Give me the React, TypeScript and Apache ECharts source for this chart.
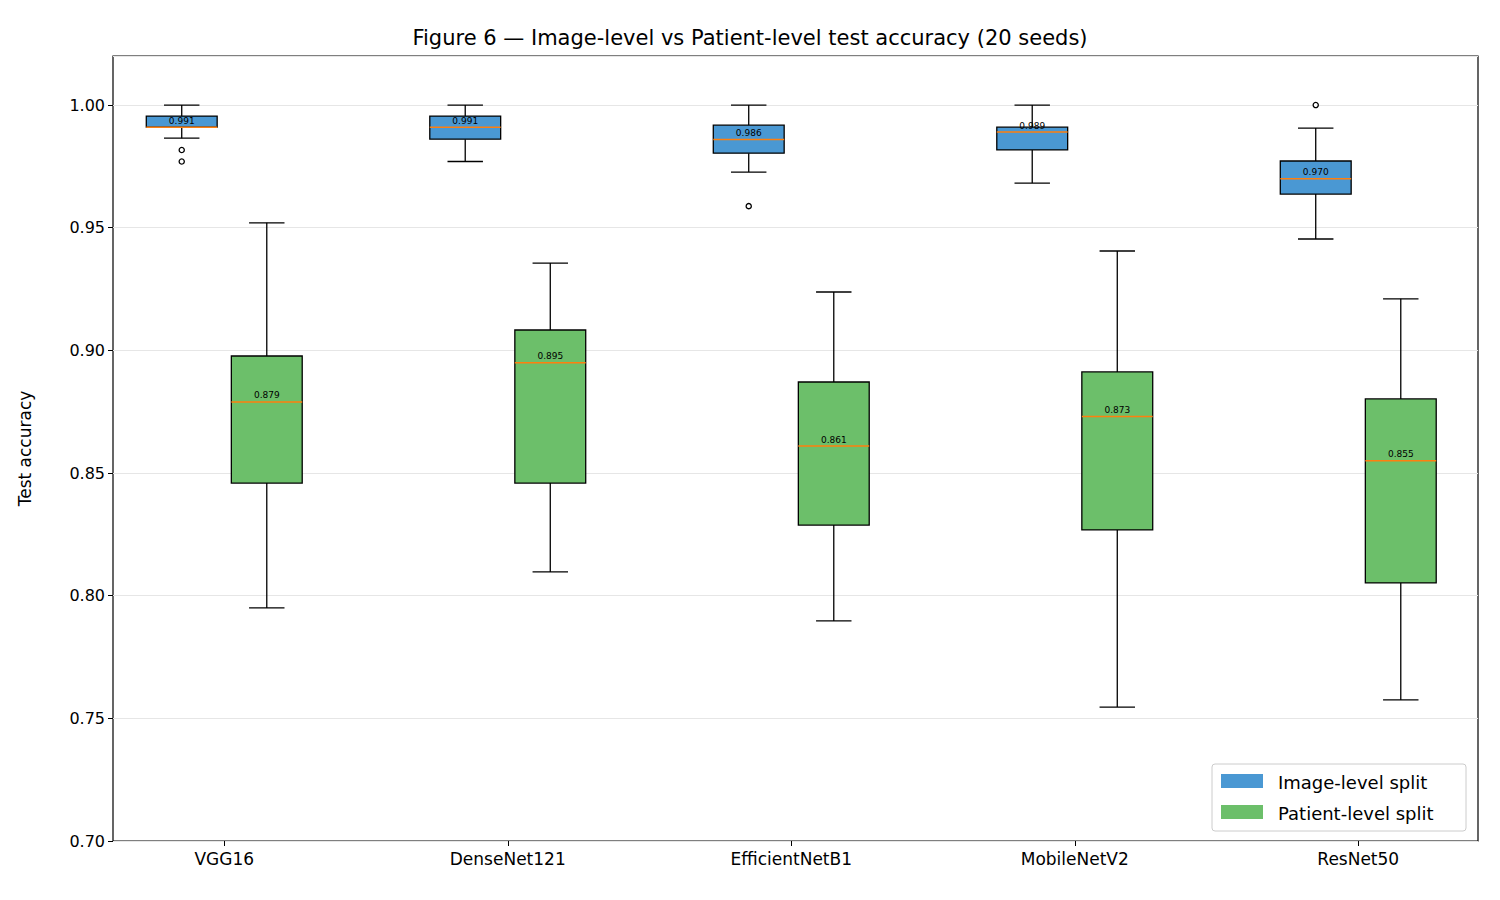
import React, { useEffect, useRef } from 'react';
import * as echarts from 'echarts';

const models = ['VGG16', 'DenseNet121', 'EfficientNetB1', 'MobileNetV2', 'ResNet50'];

// [low whisker, Q1, median, Q3, high whisker]
const imageStats = [
  [0.9865, 0.991, 0.991, 0.9955, 1.0],
  [0.977, 0.9861, 0.991, 0.9955, 1.0],
  [0.9727, 0.9804, 0.986, 0.9918, 1.0],
  [0.9682, 0.9817, 0.989, 0.991, 1.0],
  [0.9454, 0.9637, 0.970, 0.9772, 0.9906],
];
const patientStats = [
  [0.795, 0.8459, 0.879, 0.8977, 0.952],
  [0.8097, 0.8459, 0.895, 0.9083, 0.9356],
  [0.7897, 0.8288, 0.861, 0.8871, 0.9238],
  [0.7546, 0.8268, 0.873, 0.8912, 0.9405],
  [0.7575, 0.8052, 0.855, 0.8802, 0.921],
];
// [model index, value]
const imageOutliers = [[0, 0.9817], [0, 0.977], [2, 0.9588], [4, 1.0]];

const blue = '#4a98d3';
const green = '#6cbf6a';
const orange = '#ff7f0e';
const font = 'DejaVu Sans';

const App: React.FC = () => {
  const chartRef = useRef<HTMLDivElement | null>(null);

  useEffect(() => {
    if (!chartRef.current) return;
    const chart = echarts.init(chartRef.current, undefined, { renderer: 'svg' });

    const boxSeries = (stats: number[][], offset: number, color: string, name: string) => ({
      type: 'custom',
      name,
      xAxisIndex: 1,
      yAxisIndex: 1,
      data: stats.map((s, i) => [i, ...s]),
      renderItem: (params: any, api: any) => {
        const band = api.size([1, 0])[0];
        const cx = api.coord([api.value(0), 0])[0] + offset * band;
        const half = band * 0.125;
        const capHalf = half / 2;
        const y = (k: number) => api.coord([api.value(0), api.value(k)])[1];
        const [lo, q1, med, q3, hi] = [y(1), y(2), y(3), y(4), y(5)];
        const ls = { stroke: '#000', lineWidth: 1.3 };
        return {
          type: 'group',
          children: [
            { type: 'line', shape: { x1: cx, y1: hi, x2: cx, y2: q3 }, style: ls },
            { type: 'line', shape: { x1: cx, y1: q1, x2: cx, y2: lo }, style: ls },
            { type: 'line', shape: { x1: cx - capHalf, y1: hi, x2: cx + capHalf, y2: hi }, style: ls },
            { type: 'line', shape: { x1: cx - capHalf, y1: lo, x2: cx + capHalf, y2: lo }, style: ls },
            { type: 'rect', shape: { x: cx - half, y: q3, width: half * 2, height: q1 - q3 }, style: { fill: color, stroke: '#000', lineWidth: 1.3 } },
            { type: 'line', shape: { x1: cx - half, y1: med, x2: cx + half, y2: med }, style: { stroke: orange, lineWidth: 1.5 } },
            { type: 'text', x: cx, y: med - 2, style: { text: api.value(3).toFixed(3), fontSize: 9, fill: '#000', align: 'center', verticalAlign: 'bottom', fontFamily: font } },
          ],
        };
      },
    });

    const option: any = {
      animation: false,
      textStyle: { fontFamily: font },
      title: {
        text: 'Figure 6 — Image-level vs Patient-level test accuracy (20 seeds)',
        left: 'center',
        top: 22,
        textStyle: { fontSize: 21, fontWeight: 'normal', color: '#000', fontFamily: font },
      },
      grid: [
        { left: 113, right: 22, top: 56, bottom: 59, show: true, borderColor: '#000', borderWidth: 1.2, backgroundColor: 'transparent' },
        { left: 82.5, right: -7.5, top: 56, bottom: 59 },
      ],
      xAxis: [
        { type: 'value', gridIndex: 0, min: 0, max: 1, show: false },
        {
          type: 'category',
          gridIndex: 1,
          data: models,
          axisLine: { show: false },
          axisTick: { show: true, alignWithLabel: true, length: 5, lineStyle: { color: '#000' } },
          axisLabel: { color: '#000', fontSize: 17, margin: 9, fontFamily: font },
        },
      ],
      yAxis: [
        {
          type: 'value',
          gridIndex: 0,
          min: 0.7,
          max: 1.02,
          interval: 0.05,
          name: 'Test accuracy',
          nameLocation: 'middle',
          nameGap: 80,
          nameTextStyle: { fontSize: 17, color: '#000', fontFamily: font },
          axisLine: { show: false },
          axisTick: { show: true, length: 5, lineStyle: { color: '#000' } },
          axisLabel: { color: '#000', fontSize: 16, fontFamily: font, formatter: (v: number) => v.toFixed(2), showMaxLabel: false },
          splitLine: { lineStyle: { color: '#e6e6e6' } },
        },
        { type: 'value', gridIndex: 1, min: 0.7, max: 1.02, show: false },
      ],
      series: [
        boxSeries(imageStats, -0.15, blue, 'Image-level split'),
        boxSeries(patientStats, 0.15, green, 'Patient-level split'),
        {
          type: 'custom',
          xAxisIndex: 1,
          yAxisIndex: 1,
          data: imageOutliers,
          renderItem: (params: any, api: any) => {
            const band = api.size([1, 0])[0];
            const p = api.coord([api.value(0), api.value(1)]);
            return { type: 'circle', shape: { cx: p[0] - 0.15 * band, cy: p[1], r: 2.6 }, style: { fill: '#fff', stroke: '#000', lineWidth: 1.3 } };
          },
        },
      ],
      graphic: [
        { type: 'rect', shape: { x: 1212, y: 764, width: 254, height: 67, r: 3 }, style: { fill: '#fff', stroke: '#ccc', lineWidth: 1 } },
        { type: 'rect', shape: { x: 1221, y: 774, width: 42, height: 14 }, style: { fill: blue } },
        { type: 'text', x: 1278, y: 782, style: { text: 'Image-level split', fontSize: 18, fill: '#000', verticalAlign: 'middle', fontFamily: font } },
        { type: 'rect', shape: { x: 1221, y: 805, width: 42, height: 14 }, style: { fill: green } },
        { type: 'text', x: 1278, y: 813, style: { text: 'Patient-level split', fontSize: 18, fill: '#000', verticalAlign: 'middle', fontFamily: font } },
      ],
    };

    chart.setOption(option);
    return () => chart.dispose();
  }, []);

  return <div ref={chartRef} style={{ position: 'fixed', left: 0, top: 0, width: 1500, height: 900, background: '#fff' }} />;
};

export default App;
